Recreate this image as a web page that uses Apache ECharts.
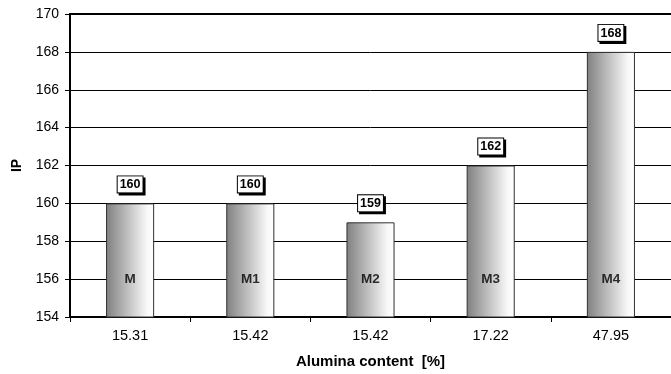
<!DOCTYPE html>
<html>
<head>
<meta charset="utf-8">
<script src="https://cdn.jsdelivr.net/npm/echarts@6/dist/echarts.min.js"></script>
<style>
  html, body { margin: 0; padding: 0; background: #fff; }
  #chart { width: 671px; height: 374px; }
</style>
</head>
<body>
<div id="chart"></div>
<script>
// Alumina content of each mix (x categories) and its IP value
const aluminaContent = ['15.31', '15.42', '15.42', '17.22', '47.95'];
const mixNames = ['M', 'M1', 'M2', 'M3', 'M4'];
const ipValues = [160, 160, 159, 162, 168];
// height on the IP scale where the mix names sit inside the bars
const nameLevel = 156;

const FONT = 'Arial, "Liberation Sans", sans-serif';

const chart = echarts.init(document.getElementById('chart'), null, { renderer: 'canvas' });

chart.setOption({
  animation: false,
  backgroundColor: '#ffffff',
  grid: { left: 70, top: 14, right: -7, bottom: 53, containLabel: false },
  xAxis: [
    {
      type: 'category',
      data: aluminaContent,
      name: 'Alumina content  [%]',
      nameLocation: 'middle',
      nameGap: 37,
      nameTextStyle: { fontFamily: FONT, fontSize: 15, fontWeight: 'bold', color: '#000' },
      axisLine: { lineStyle: { color: '#000', width: 2 } },
      axisTick: { show: true, alignWithLabel: false, length: 5, lineStyle: { color: '#000', width: 1 } },
      axisLabel: { fontFamily: FONT, fontSize: 14.5, color: '#000', margin: 11 },
      splitLine: { show: false }
    },
    {
      // top frame of the plot area
      type: 'category',
      data: aluminaContent,
      position: 'top',
      axisLine: { show: true, lineStyle: { color: '#000', width: 2 } },
      axisTick: { show: false },
      axisLabel: { show: false },
      splitLine: { show: false }
    }
  ],
  yAxis: {
    type: 'value',
    min: 154,
    max: 170,
    interval: 2,
    name: 'IP',
    nameLocation: 'middle',
    nameRotate: 90,
    nameGap: 46,
    nameTextStyle: { fontFamily: FONT, fontSize: 14, fontWeight: 'bold', color: '#000' },
    axisLine: { show: true, lineStyle: { color: '#000', width: 2 } },
    axisTick: { show: true, length: 5, lineStyle: { color: '#000', width: 1 } },
    axisLabel: { fontFamily: FONT, fontSize: 14, color: '#000', margin: 11 },
    splitLine: { show: true, lineStyle: { color: '#000', width: 1 } }
  },
  series: [
    {
      type: 'bar',
      data: ipValues,
      barWidth: '40%',
      itemStyle: {
        color: new echarts.graphic.LinearGradient(0, 0, 1, 0, [
          { offset: 0, color: '#808080' },
          { offset: 0.85, color: '#f8f8f8' },
          { offset: 1, color: '#ffffff' }
        ]),
        borderColor: '#303030',
        borderWidth: 1
      },
      label: {
        show: true,
        position: 'top',
        distance: 11,
        fontFamily: FONT,
        fontSize: 12.5,
        fontWeight: 'bold',
        lineHeight: 13,
        color: '#000',
        backgroundColor: '#fff',
        borderColor: '#000',
        borderWidth: 1,
        padding: [2, 2, 1, 2],
        shadowColor: '#000',
        shadowBlur: 0,
        shadowOffsetX: 2,
        shadowOffsetY: 2
      },
      z: 2
    },
    {
      type: 'scatter',
      data: mixNames.map((n, i) => ({ value: [i, nameLevel], name: n })),
      symbolSize: 0,
      silent: true,
      label: {
        show: true,
        position: 'inside',
        formatter: p => p.name,
        fontFamily: FONT,
        fontSize: 13.5,
        fontWeight: 'bold',
        color: '#000'
      },
      z: 3
    }
  ]
});
</script>
</body>
</html>
